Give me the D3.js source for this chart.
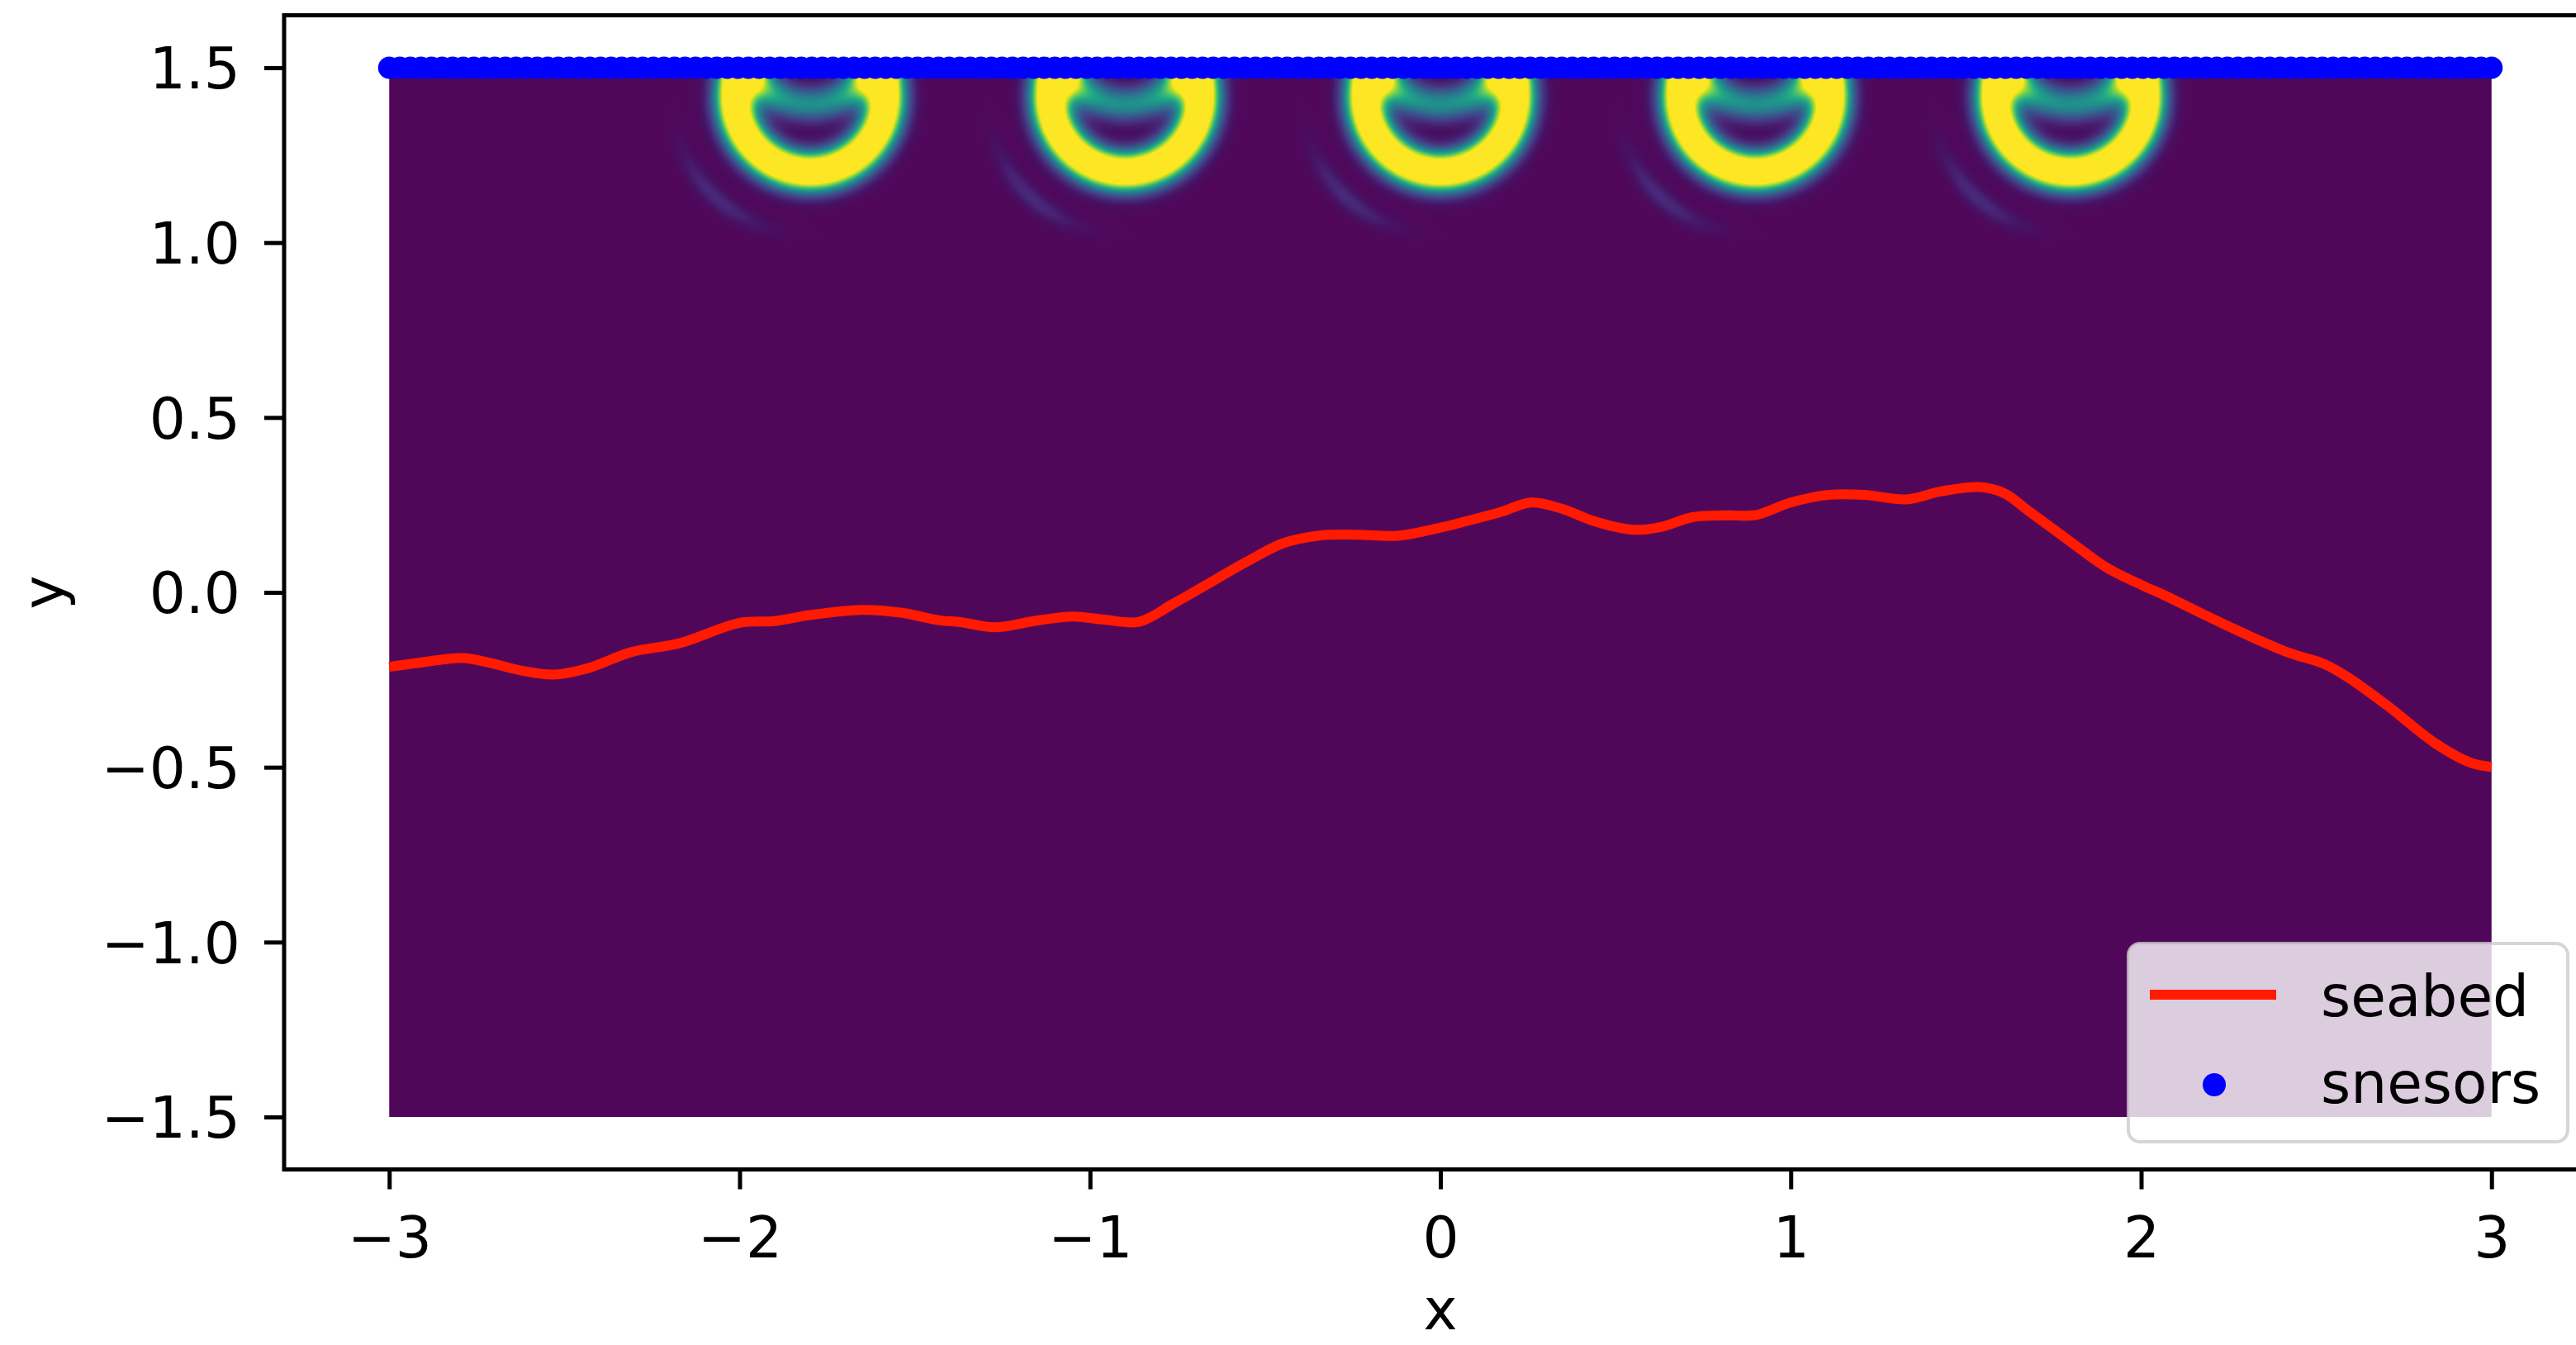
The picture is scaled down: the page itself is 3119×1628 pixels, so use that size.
<!DOCTYPE html>
<html>
<head>
<meta charset="utf-8">
<script src="https://cdn.jsdelivr.net/npm/d3@7/dist/d3.min.js"></script>
<style>
  html, body { margin: 0; padding: 0; background: #ffffff; }
  svg { display: block; }
  text { font-family: "DejaVu Sans", sans-serif; fill: #000; }
</style>
</head>
<body>
<svg id="chart" width="3119" height="1628"></svg>
<script>
// ---- Seabed profile ----
const seabedX = [-3.0, -2.92, -2.79, -2.72, -2.62, -2.53, -2.43, -2.31, -2.17, -2.0,
                 -1.9, -1.8, -1.65, -1.54, -1.43, -1.37, -1.27, -1.16, -1.05, -0.96,
                 -0.86, -0.76, -0.65, -0.55, -0.45, -0.35, -0.24, -0.12, 0.0, 0.08,
                 0.17, 0.26, 0.35, 0.44, 0.55, 0.63, 0.72, 0.82, 0.9, 1.0,
                 1.11, 1.21, 1.33, 1.43, 1.54, 1.61, 1.68, 1.79, 1.9, 2.01,
                 2.07, 2.19, 2.31, 2.42, 2.52, 2.59, 2.7, 2.84, 2.94, 3.0];
const seabedY = [-0.213, -0.202, -0.188, -0.2, -0.224, -0.235, -0.216, -0.171, -0.145, -0.087,
                 -0.082, -0.065, -0.05, -0.058, -0.08, -0.085, -0.1, -0.082, -0.069, -0.078,
                 -0.084, -0.031, 0.032, 0.089, 0.14, 0.162, 0.165, 0.162, 0.185, 0.205,
                 0.229, 0.257, 0.238, 0.203, 0.179, 0.187, 0.215, 0.22, 0.221, 0.257,
                 0.279, 0.279, 0.266, 0.289, 0.301, 0.283, 0.232, 0.151, 0.072, 0.017,
                 -0.01, -0.069, -0.125, -0.172, -0.204, -0.243, -0.322, -0.432, -0.487, -0.499];

// ---- Sensor array along the surface (regular spacing) ----
const sensorCount = 200;
const sensorSpan = [-3, 3];
const sensorLevel = 1.5;

// ---- Wavefield snapshot: shot positions and ring components ----
// component 0: direct wavefront, component 1: surface-mirrored wavefront
const sourceX = [-1.8, -0.9, 0.0, 0.9, 1.8];
const ringOffset     = [-0.080, 0.104];   // ring centre relative to the surface
const ringRadius     = [0.215, 0.205];
const ringWidth      = [0.052, 0.047];
const ringAmpBottom  = [1.6, 0.5];        // strength straight below the centre
const ringAmpSide    = [1.6, 1.5];        // strength towards the horizontal
const tailRadius = 0.395, tailWidth = 0.028, tailAmp = 0.12;   // faint trailing arc
const tailAngle = 43, tailSpread = 24;                          // degrees from straight down, towards -x

// ---- Domain / extent ----
const fieldExtentX = [-3, 3];
const fieldExtentY = [-1.5, 1.5];
const xLimits = [-3.3, 3.3];
const yLimits = [-1.65, 1.65];

// ---- Ticks ----
const xTicks = [-3, -2, -1, 0, 1, 2, 3];
const xTickLabels = ["\u22123", "\u22122", "\u22121", "0", "1", "2", "3"];
const yTicks = [-1.5, -1.0, -0.5, 0.0, 0.5, 1.0, 1.5];
const yTickLabels = ["\u22121.5", "\u22121.0", "\u22120.5", "0.0", "0.5", "1.0", "1.5"];

const legendLabels = ["seabed", "snesors"];

// ---- Layout ----
const FS = 69.4;
const svg = d3.select("#chart");
const x = d3.scaleLinear().domain(xLimits).range([344, 3144]);
const y = d3.scaleLinear().domain(yLimits).range([1415.5, 18.5]);

// Colour map: viridis, with the low end matched to the background purple
const bgPurple = "rgb(80,7,90)";
const stopsT = d3.range(0, 1.0001, 0.05);
const colour = d3.scaleLinear()
  .domain(stopsT)
  .range(stopsT.map((t, i) => i === 0 ? bgPurple : d3.interpolateViridis(t)))
  .interpolate(d3.interpolateRgb)
  .clamp(true);

// ---- Wavefield grid ----
const step = 0.005;
const gx = d3.range(fieldExtentX[0], fieldExtentX[1] + step / 2, step);
const gy = d3.range(fieldExtentY[1], fieldExtentY[0] - step / 2, -step);   // top row first
const nx = gx.length, ny = gy.length;

function fieldValue(px, py) {
  let v = 0;
  const depth = sensorLevel - py;
  if (depth > 0.75) return 0;
  for (const sx of sourceX) {
    const dx = px - sx;
    if (Math.abs(dx) > 0.65) continue;
    for (let k = 0; k < ringOffset.length; k++) {
      const cy = sensorLevel + ringOffset[k];
      const r = Math.hypot(dx, py - cy);
      const s = r > 0 ? Math.abs(dx) / r : 0;
      const amp = ringAmpBottom[k] + (ringAmpSide[k] - ringAmpBottom[k]) * s * s * s;
      const t = (r - ringRadius[k]) / ringWidth[k];
      v += amp * Math.exp(-t * t);
    }
    // trailing arc, lower-left of each shot
    const cy0 = sensorLevel + ringOffset[0];
    const vy = py - cy0;
    const r0 = Math.hypot(dx, vy);
    const theta = Math.atan2(-dx, -vy) * 180 / Math.PI;
    const ta = (theta - tailAngle) / tailSpread;
    const tr = (r0 - tailRadius) / tailWidth;
    v += tailAmp * Math.exp(-tr * tr) * Math.exp(-ta * ta);
  }
  return v;
}

const lut = d3.range(256).map(i => d3.rgb(colour(i / 255)));
const off = document.createElement("canvas");
off.width = nx; off.height = ny;
const ctx = off.getContext("2d");
const img = ctx.createImageData(nx, ny);
for (let j = 0; j < ny; j++) {
  for (let i = 0; i < nx; i++) {
    const v = Math.max(0, Math.min(1, fieldValue(gx[i], gy[j])));
    const c = lut[Math.round(v * 255)];
    const p = (j * nx + i) * 4;
    img.data[p] = c.r; img.data[p + 1] = c.g; img.data[p + 2] = c.b; img.data[p + 3] = 255;
  }
}
ctx.putImageData(img, 0, 0);

svg.append("image")
  .attr("href", off.toDataURL())
  .attr("x", x(fieldExtentX[0]))
  .attr("y", y(fieldExtentY[1]))
  .attr("width", x(fieldExtentX[1]) - x(fieldExtentX[0]))
  .attr("height", y(fieldExtentY[0]) - y(fieldExtentY[1]))
  .attr("preserveAspectRatio", "none");

// ---- Seabed line ----
const seabed = seabedX.map((v, i) => [v, seabedY[i]]);
svg.append("path")
  .datum(seabed)
  .attr("fill", "none")
  .attr("stroke", "#ff1a00")
  .attr("stroke-width", 12)
  .attr("stroke-linejoin", "round")
  .attr("d", d3.line().x(d => x(d[0])).y(d => y(d[1])).curve(d3.curveCatmullRom.alpha(0.5)));

// ---- Sensors ----
const sensors = d3.range(sensorCount).map(i =>
  sensorSpan[0] + i * (sensorSpan[1] - sensorSpan[0]) / (sensorCount - 1));
svg.append("g").selectAll("circle")
  .data(sensors)
  .join("circle")
  .attr("cx", d => x(d))
  .attr("cy", y(sensorLevel))
  .attr("r", 13.5)
  .attr("fill", "#0000ff");

// ---- Axes ----
const xAxis = svg.append("g")
  .attr("transform", `translate(0,${y(yLimits[0])})`)
  .call(d3.axisBottom(x).tickValues(xTicks).tickSize(24).tickPadding(33)
        .tickFormat((d, i) => xTickLabels[i]));
const yAxis = svg.append("g")
  .attr("transform", `translate(${x(xLimits[0])},0)`)
  .call(d3.axisLeft(y).tickValues(yTicks).tickSize(24).tickPadding(29)
        .tickFormat((d, i) => yTickLabels[i]));
[xAxis, yAxis].forEach(g => {
  g.select(".domain").remove();
  g.attr("font-size", null).attr("font-family", null);
  g.selectAll(".tick line").attr("stroke", "#000").attr("stroke-width", 5);
  g.selectAll(".tick text").attr("font-size", FS).attr("fill", "#000");
});
yAxis.selectAll(".tick text").attr("dy", "0.36em");

// spines
const spine = svg.append("g").attr("stroke", "#000").attr("stroke-width", 5).attr("fill", "none");
spine.append("rect")
  .attr("x", x(xLimits[0])).attr("y", y(yLimits[1]))
  .attr("width", x(xLimits[1]) - x(xLimits[0]))
  .attr("height", y(yLimits[0]) - y(yLimits[1]));

// axis labels
svg.append("text").attr("x", x(0)).attr("y", 1609)
  .attr("text-anchor", "middle").attr("font-size", FS).text("x");
svg.append("text")
  .attr("transform", `translate(77,${y(0)}) rotate(-90)`)
  .attr("text-anchor", "middle").attr("font-size", FS).text("y");

// ---- Legend ----
const lg = svg.append("g");
lg.append("rect")
  .attr("x", 2577).attr("y", 1142).attr("width", 532).attr("height", 240)
  .attr("rx", 14).attr("ry", 14)
  .attr("fill", "#ffffff").attr("fill-opacity", 0.8)
  .attr("stroke", "#cccccc").attr("stroke-opacity", 0.8).attr("stroke-width", 4);
lg.append("line")
  .attr("x1", 2603).attr("x2", 2756).attr("y1", 1204).attr("y2", 1204)
  .attr("stroke", "#ff1a00").attr("stroke-width", 12);
lg.append("circle").attr("cx", 2681).attr("cy", 1313).attr("r", 14).attr("fill", "#0000ff");
lg.append("text").attr("x", 2810).attr("y", 1230).attr("font-size", FS).text(legendLabels[0]);
lg.append("text").attr("x", 2810).attr("y", 1335).attr("font-size", FS).text(legendLabels[1]);
</script>
</body>
</html>
